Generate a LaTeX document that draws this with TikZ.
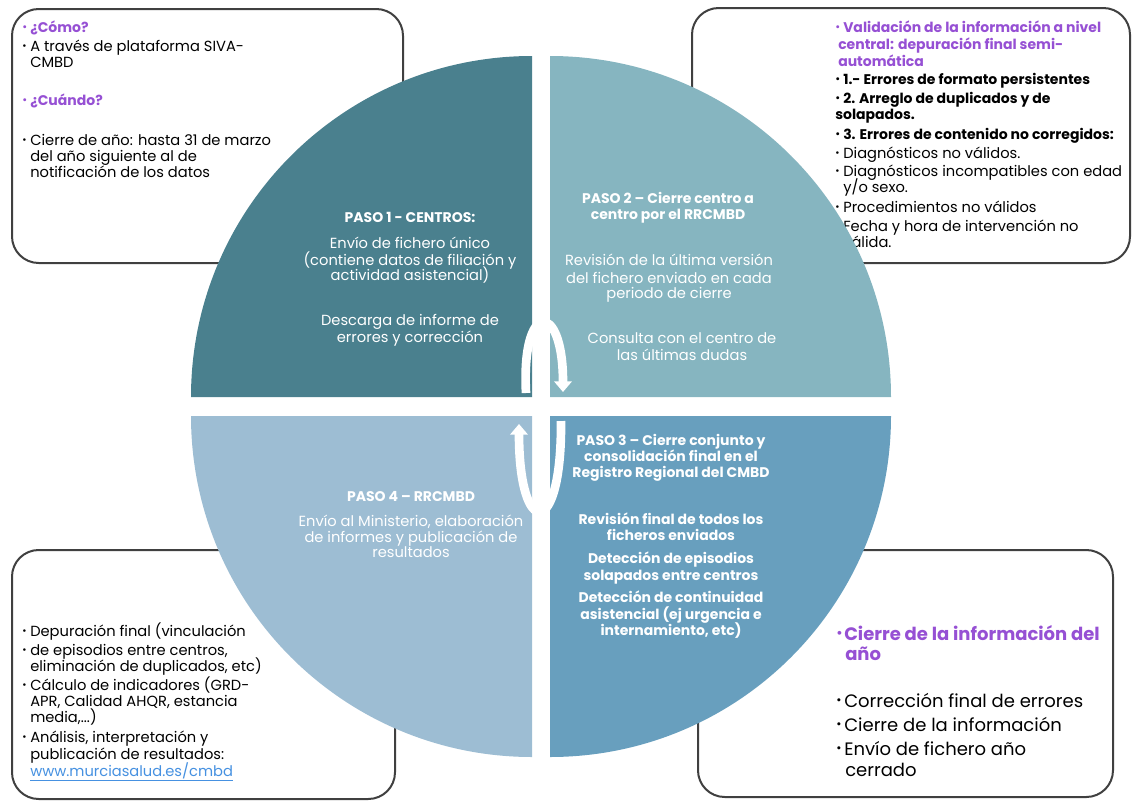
\documentclass[tikz,border=0pt]{standalone}
\usepackage{fontspec}
\usepackage{graphicx}
\setmainfont{Poppins}
\usetikzlibrary{arrows.meta}
\definecolor{qa}{RGB}{74,128,142}
\definecolor{qb}{RGB}{134,181,192}
\definecolor{qc}{RGB}{104,159,190}
\definecolor{qd}{RGB}{157,189,211}
\definecolor{pur}{RGB}{150,80,212}
\definecolor{brd}{RGB}{64,64,64}
\definecolor{lnk}{RGB}{70,145,225}
\newcommand\bul{\makebox[6pt][l]{\raisebox{0.12em}{\scalebox{0.7}{•}}}}
\newcommand\bfx{\fontsize{10.5}{12.75}\selectfont\bfseries}
\newcommand\tl[4]{\node[txt] (#1) at (#2,#3) {#4};}
\newcommand\tlb[4]{\node[txtb] (#1) at (#2,#3) {#4};}
\newcommand\tc[4]{\node[ctxt] (#1) at (#2,#3) {#4};}
\tikzset{
  box/.style={draw=brd, line width=1.5pt, rounded corners=20pt, fill=white},
  txt/.style={anchor=base west, inner sep=0pt, font=\fontsize{11}{13}\selectfont},
  txtb/.style={anchor=base west, inner sep=0pt, font=\fontsize{13.5}{16}\selectfont},
  ctxt/.style={anchor=base, inner sep=0pt, text=white, font=\fontsize{11}{13}\selectfont},
  arr/.style={draw=white, line width=6.5pt, -{Triangle[width=13pt,length=8pt]}},
}
\begin{document}
\begin{tikzpicture}[x=0.75pt,y=-0.75pt]
\useasboundingbox (0,0) rectangle (1132,800);
% boxes
\draw[box] (12,9) rectangle (403,263);
\draw[box] (692,8) rectangle (1130,263);
\draw[box] (12,550) rectangle (395,799);
\draw[box] (698,550) rectangle (1113,797);
% top-left box text
\tl{a1}{22}{32}{\color{pur}\bfx\bul ¿Cómo?}
\tl{a2}{22}{51}{\bul A través de plataforma SIVA-}
\tl{a3}{30}{67}{CMBD}
\tl{a4}{22}{105}{\color{pur}\bfx\bul ¿Cuándo?}
\tl{a5}{22}{145}{\bul Cierre de año: hasta 31 de marzo}
\tl{a6}{30}{161}{del año siguiente al de}
\tl{a7}{30}{177}{notificación de los datos}
% top-right box text
\tl{b1}{835}{32}{\color{pur}\bfx\bul Validación de la información a nivel}
\tl{b2}{838}{49}{\color{pur}\bfx central: depuración final semi-}
\tl{b3}{838}{66}{\color{pur}\bfx automática}
\tl{b4}{835}{84}{\bfx\bul 1.- Errores de formato persistentes}
\tl{b5}{835}{103}{\bfx\bul 2. Arreglo de duplicados y de}
\tl{b6}{835}{119}{\bfx solapados.}
\tl{b7}{835}{139}{\bfx\bul 3. Errores de contenido no corregidos:}
\tl{b8}{835}{158}{\bul Diagnósticos no válidos.}
\tl{b9}{835}{176}{\bul Diagnósticos incompatibles con edad}
\tl{b10}{843}{192}{y/o sexo.}
\tl{b11}{835}{212}{\bul Procedimientos no válidos}
\tl{b12}{835}{231}{\bul Fecha y hora de intervención no}
\tl{b13}{843}{247}{válida.}
% bottom-left box text
\tl{c1}{22}{636}{\bul Depuración final (vinculación}
\tl{c2}{22}{655}{\bul de episodios entre centros,}
\tl{c3}{30}{671}{eliminación de duplicados, etc)}
\tl{c4}{22}{690}{\bul Cálculo de indicadores (GRD-}
\tl{c5}{30}{706}{APR, Calidad AHQR, estancia}
\tl{c6}{30}{722}{media,...)}
\tl{c7}{22}{742}{\bul Análisis, interpretación y}
\tl{c8}{30}{759}{publicación de resultados:}
\tl{c9}{30}{776}{\color{lnk}\underline{www.murciasalud.es/cmbd}}
% bottom-right box text
\tlb{d1}{836}{640}{\color{pur}\bfseries\bul Cierre de la información del}
\tlb{d2}{845}{660}{\color{pur}\bfseries año}
\tlb{d3}{836}{707}{\bul Corrección final de errores}
\tlb{d4}{836}{731}{\bul Cierre de la información}
\tlb{d5}{836}{755}{\bul Envío de fichero año}
\tlb{d6}{845}{776}{cerrado}
% quadrants
\fill[qa] (532,397) -- ++(-341,0) arc[start angle=180,end angle=270,radius=341] -- cycle;
\fill[qb] (550,397) -- ++(0,-341) arc[start angle=270,end angle=360,radius=341] -- cycle;
\fill[qc] (550,416) -- ++(341,0) arc[start angle=0,end angle=90,radius=341] -- cycle;
\fill[qd] (532,416) -- ++(0,341) arc[start angle=90,end angle=180,radius=341] -- cycle;
% cycle arrows
\coordinate (p1s) at (526,393);
\coordinate (p1e) at (563,392);
\coordinate (p2s) at (561,421);
\coordinate (p2e) at (519,424);
\draw[arr] (p1s) .. controls (521,300) and (563,300) .. (p1e);
\draw[arr] (p2s) .. controls (562,540) and (519,540) .. (p2e);
% quadrant 1 text
\tc{e1}{410}{222}{\bfx PASO 1 - CENTROS:}
\tc{e2}{410}{248}{Envío de fichero único}
\tc{e3}{410}{265}{(contiene datos de filiación y}
\tc{e4}{410}{280}{actividad asistencial)}
\tc{e5}{410}{325}{Descarga de informe de}
\tc{e6}{410}{342}{errores y corrección}
% quadrant 2 text
\tc{f1}{668}{203}{\bfx PASO 2 – Cierre centro a}
\tc{f2}{668}{219}{\bfx centro por el RRCMBD}
\tc{f3}{669}{265}{Revisión de la última versión}
\tc{f4}{669}{283}{del fichero enviado en cada}
\tc{f5}{669}{298}{periodo de cierre}
\tc{f6}{682}{343}{Consulta con el centro de}
\tc{f7}{682}{360}{las últimas dudas}
% quadrant 3 text
\tc{g1}{671}{445}{\bfx PASO 3 – Cierre conjunto y}
\tc{g2}{671}{461}{\bfx consolidación final en el}
\tc{g3}{671}{477}{\bfx Registro Regional del CMBD}
\tc{g4}{671}{524}{\bfx Revisión final de todos los}
\tc{g5}{671}{540}{\bfx ficheros enviados}
\tc{g6}{671}{563}{\bfx Detección de episodios}
\tc{g7}{671}{580}{\bfx solapados entre centros}
\tc{g8}{671}{602}{\bfx Detección de continuidad}
\tc{g9}{671}{619}{\bfx asistencial (ej urgencia e}
\tc{g10}{671}{635}{\bfx internamiento, etc)}
% quadrant 4 text
\tc{h1}{411}{501}{\bfx PASO 4 – RRCMBD}
\tc{h2}{411}{526}{Envío al Ministerio, elaboración}
\tc{h3}{411}{542}{de informes y publicación de}
\tc{h4}{411}{557}{resultados}
\end{tikzpicture}
\end{document}
